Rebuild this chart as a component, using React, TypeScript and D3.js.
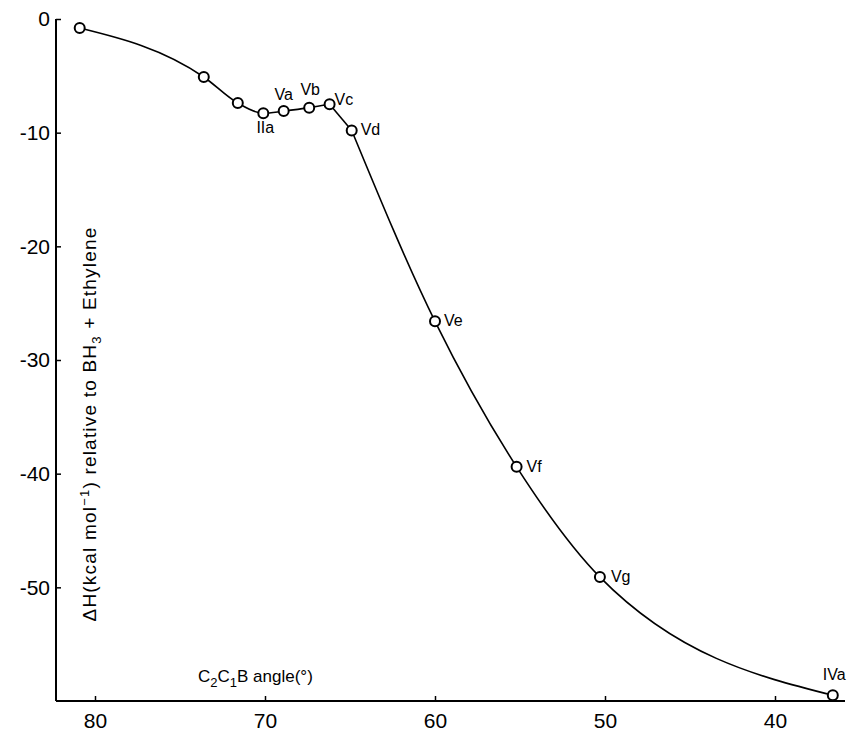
import { useEffect, useRef } from 'react'
import * as d3 from 'd3'

// C2C1B angle (degrees) and ΔH (kcal/mol)
const angles = [80.9, 73.6, 71.6, 70.1, 68.9, 67.4, 66.2, 64.9, 60.0, 55.2, 50.3, 36.6]
const enthalpy = [-0.8, -5.1, -7.4, -8.3, -8.1, -7.8, -7.5, -9.8, -26.6, -39.4, -49.1, -59.5]
const pointLabels = ['', '', '', 'IIa', 'Va', 'Vb', 'Vc', 'Vd', 'Ve', 'Vf', 'Vg', 'IVa']
// the drawn curve has a kink between Vc and Vd: smooth pieces run over these index ranges
const smoothPieces = [[0, 6], [6, 7], [7, 11]]
// where each label sits relative to its point: [dx, dy, anchor]
const labelPlacement: Record<string, [number, number, string]> = {
  IIa: [2, 20, 'middle'],
  Va: [0, -11, 'middle'],
  Vb: [1, -13, 'middle'],
  Vc: [5, 1, 'start'],
  Vd: [9, 5, 'start'],
  Ve: [9, 5, 'start'],
  Vf: [10, 5, 'start'],
  Vg: [11, 5, 'start'],
  IVa: [-10, -15, 'start'],
}

const xTicks = [80, 70, 60, 50, 40]
const yTicks = [0, -10, -20, -30, -40, -50]

export default function App() {
  const svgRef = useRef<SVGSVGElement>(null)

  useEffect(() => {
    if (!svgRef.current) return
    const svg = d3.select(svgRef.current)
    svg.selectAll('*').remove()

    const font = '"Liberation Sans", Arial, sans-serif'

    const x = d3.scaleLinear().domain([80, 40]).range([95, 775])
    const y = d3.scaleLinear().domain([0, -60]).range([19, 701])
    const xLeft = x.invert(56)
    const xRight = x.invert(845)

    // axes
    const xAxis = svg.append('g')
      .attr('transform', `translate(0,${y(-60)})`)
      .call(d3.axisBottom(x).tickValues(xTicks).tickSize(-5).tickSizeOuter(0).tickPadding(12).tickFormat(d3.format('d')))
    xAxis.select('.domain').attr('d', `M${x(xLeft)},0H${x(xRight)}`)

    const yAxis = svg.append('g')
      .attr('transform', `translate(${x(xLeft)},0)`)
      .call(d3.axisLeft(y).tickValues(yTicks).tickSize(-5).tickSizeOuter(0).tickPadding(6)
        .tickFormat(d => (d as number) === 0 ? '0' : `-${Math.abs(d as number)}`))
    yAxis.select('.domain').attr('d', `M0,${y(0)}V${y(-60)}`)

    svg.selectAll('.tick text')
      .style('font-family', font)
      .style('font-size', '21px')
      .attr('fill', '#000')
    svg.selectAll('.domain').attr('stroke', '#000').attr('stroke-width', 2)
    svg.selectAll('.tick line').attr('stroke', '#000').attr('stroke-width', 1.5)

    // curve: angle decreases left to right, so pixel x increases along the data
    const pts = angles.map((a, i) => [a, enthalpy[i]] as [number, number])
    const line = d3.line<[number, number]>()
      .x(d => x(d[0]))
      .y(d => y(d[1]))
      .curve(d3.curveMonotoneX)
    smoothPieces.forEach(([a, b]) => {
      svg.append('path')
        .datum(pts.slice(a, b + 1))
        .attr('d', line)
        .attr('fill', 'none')
        .attr('stroke', '#000')
        .attr('stroke-width', 1.6)
    })

    svg.selectAll('.pt')
      .data(pts)
      .enter().append('circle')
      .attr('class', 'pt')
      .attr('cx', d => x(d[0]))
      .attr('cy', d => y(d[1]))
      .attr('r', 5)
      .attr('fill', '#fff')
      .attr('stroke', '#000')
      .attr('stroke-width', 2)

    svg.selectAll('.pt-label')
      .data(pts.map((p, i) => ({ p, label: pointLabels[i] })).filter(d => d.label))
      .enter().append('text')
      .attr('class', 'pt-label')
      .attr('x', d => x(d.p[0]) + labelPlacement[d.label][0])
      .attr('y', d => y(d.p[1]) + labelPlacement[d.label][1])
      .attr('text-anchor', d => labelPlacement[d.label][2])
      .style('font-family', font)
      .style('font-size', '16px')
      .text(d => d.label)

    // x axis title
    const xt = svg.append('text')
      .attr('x', 198)
      .attr('y', 682)
      .style('font-family', font)
      .style('font-size', '17px')
    xt.append('tspan').text('C')
    xt.append('tspan').attr('dy', 5).style('font-size', '13px').text('2')
    xt.append('tspan').attr('dy', -5).text('C')
    xt.append('tspan').attr('dy', 5).style('font-size', '13px').text('1')
    xt.append('tspan').attr('dy', -5).text('B angle(°)')

    // y axis title
    const yt = svg.append('text')
      .attr('transform', 'translate(96,424) rotate(-90)')
      .attr('text-anchor', 'middle')
      .style('font-family', font)
      .style('font-size', '19px')
      .style('letter-spacing', '1.2px')
    yt.append('tspan').text('ΔH(kcal mol')
    yt.append('tspan').attr('dy', -7).style('font-size', '13px').text('−1')
    yt.append('tspan').attr('dy', 7).text(')  relative to  BH')
    yt.append('tspan').attr('dy', 5).style('font-size', '13px').text('3')
    yt.append('tspan').attr('dy', -5).text(' + Ethylene')
  }, [])

  return (
    <svg
      ref={svgRef}
      width={850}
      height={731}
      style={{ position: 'absolute', left: 0, top: 0, background: '#fff' }}
    />
  )
}
